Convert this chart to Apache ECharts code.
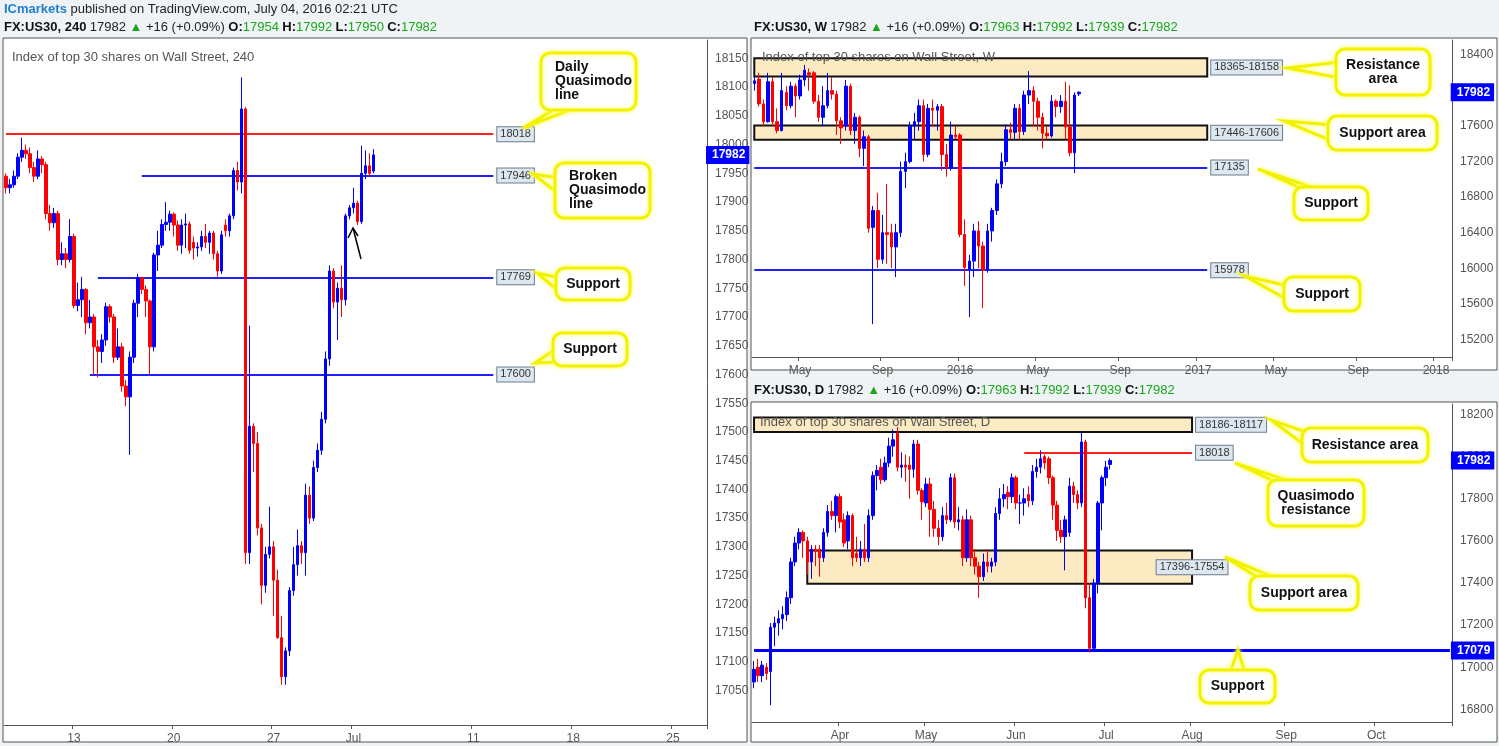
<!DOCTYPE html>
<html><head><meta charset="utf-8">
<script src="https://cdn.jsdelivr.net/npm/echarts@6/dist/echarts.min.js"></script>
<style>html,body{margin:0;padding:0;background:#f0f3f6;}#c{width:1499px;height:746px;}</style>
</head><body><div id="c"></div>
<script>
// ---------- DATA ----------
// 240-minute candles [open, close, low, high], starting Jun 8 2016
const h4Data = [
[17945,17925,17915,17950],[17925,17930,17915,17940],[17930,17945,17925,17955],[17945,17978,17940,17985],[17978,17990,17970,18012],
[17990,17984,17975,18000],[17984,17960,17950,17995],[17960,17945,17935,17970],[17945,17975,17940,17990],[17975,17965,17950,17980],
[17965,17880,17870,17970],[17880,17864,17850,17895],[17864,17880,17855,17890],[17880,17800,17790,17885],[17800,17810,17790,17830],
[17810,17800,17785,17820],[17800,17840,17795,17870],[17840,17720,17715,17845],[17720,17730,17710,17760],[17730,17748,17700,17770],
[17748,17690,17670,17750],[17690,17700,17680,17730],[17700,17648,17600,17705],[17648,17640,17595,17660],[17640,17660,17620,17670],
[17660,17718,17650,17725],[17718,17700,17690,17722],[17700,17630,17620,17705],[17630,17648,17625,17680],[17648,17580,17570,17655],
[17580,17561,17545,17590],[17561,17630,17460,17640],[17630,17724,17620,17730],[17724,17768,17700,17775],[17768,17748,17740,17770],
[17748,17728,17700,17755],[17728,17648,17600,17730],[17648,17808,17640,17812],[17808,17825,17780,17850],[17825,17861,17820,17870],
[17861,17865,17850,17900],[17865,17879,17850,17885],[17879,17860,17840,17882],[17860,17825,17815,17868],[17825,17860,17810,17870],
[17860,17862,17820,17880],[17862,17816,17810,17866],[17830,17820,17800,17840],[17820,17822,17805,17830],[17822,17840,17815,17850],
[17840,17830,17820,17862],[17830,17846,17810,17850],[17846,17810,17800,17850],[17810,17780,17770,17815],[17780,17843,17775,17850],
[17860,17850,17840,17870],[17850,17876,17840,17880],[17876,17955,17870,17960],[17955,17935,17920,17970],[17935,18062,17915,18117],
[18062,17290,17270,18065],[17290,17510,17270,17685],[17510,17480,17430,17515],[17480,17333,17320,17500],[17333,17233,17200,17340],
[17233,17287,17220,17300],[17287,17300,17280,17370],[17300,17242,17180,17310],[17242,17142,17140,17260],[17142,17074,17060,17180],
[17074,17119,17060,17125],[17119,17224,17110,17230],[17224,17269,17215,17300],[17269,17302,17250,17330],[17302,17290,17270,17310],
[17290,17390,17250,17410],[17390,17350,17340,17405],[17350,17438,17345,17450],[17438,17468,17430,17480],[17468,17522,17460,17535],
[17522,17627,17515,17640],[17627,17780,17615,17790],[17780,17726,17715,17785],[17726,17750,17660,17760],[17750,17730,17700,17790],
[17730,17876,17720,17880],[17876,17890,17870,17895],[17890,17898,17880,17925],[17898,17866,17860,17902],[17866,17950,17862,17998],
[17950,17963,17940,17990],[17963,17950,17945,17985],[17954,17982,17950,17992]
];
const h4Labels = {'2016-06-13':'13','2016-06-20':'20','2016-06-27':'27','2016-07-01':'Jul','2016-07-11':'11','2016-07-18':'18','2016-07-25':'25'};
const h4Levels = {qm:18018, broken:17946, sup1:17769, sup2:17600};

// Weekly candles [open, close, low, high], starting week of Feb 23 2015
const wkData = [
[18080,18110,18000,18160],[18130,17850,17820,18200],[17850,17650,17600,17900],[17650,18100,17640,18200],[18100,17650,17600,18150],
[17650,17550,17520,17800],[17550,18000,17540,18200],[17980,17830,17780,18050],[17830,18050,17800,18100],[18050,17940,17700,18080],
[17940,18120,17900,18180],[18120,18230,18050,18290],[18200,18180,18000,18250],[18200,17880,17850,18220],[17880,17700,17650,17950],
[17700,17830,17600,18050],[17830,18000,17800,18200],[18000,17960,17900,18150],[17960,17660,17500,18000],[17660,17580,17400,17700],
[17600,18050,17550,18120],[18050,17550,17500,18080],[17550,17700,17400,17750],[17700,17350,17250,17720],[17350,17480,17150,17550],
[17480,16450,16400,17500],[16460,16650,15370,16700],[16650,16100,16000,16850],[16100,16400,16050,16600],[16400,16380,16050,16950],
[16400,16240,16000,16500],[16240,16400,15900,16500],[16400,17090,16350,17200],[17090,17200,16900,17300],[17200,17600,17180,17650],
[17600,17650,17450,17750],[17650,17830,17550,17900],[17830,17280,17200,17900],[17280,17800,17250,17850],[17800,17780,17600,17900],
[17780,17820,17550,17850],[17820,17280,17100,17850],[17280,17130,17030,17400],[17130,17500,17100,17650],[17500,17480,17450,17600],
[17500,16380,16350,17520],[16380,16010,15800,16550],[15990,16080,15450,16150],[16080,16420,15900,16500],[16420,16250,16000,16530],
[16250,15980,15550,16300],[15980,16420,15950,16500],[16420,16650,16300,16680],[16650,16950,16600,17000],[16950,17200,16900,17300],
[17200,17560,17150,17620],[17560,17530,17450,17640],[17530,17800,17450,17850],[17800,17540,17450,17850],[17540,17950,17500,18000],
[17950,18000,17850,18220],[18000,17880,17600,18050],[17880,17700,17550,17920],[17700,17520,17350,17750],[17520,17490,17450,17600],
[17490,17880,17470,17950],[17880,17820,17700,17900],[17820,17880,17750,17950],[17880,17590,17450,18100],[17590,17300,17260,18060],
[17300,17950,17070,17980],[17963,17982,17939,17992]
];
const wkLevels = {resLo:18158, resHi:18365, supLo:17446, supHi:17606, sup1:17135, sup2:15978};

// Daily candles [open, close, low, high], starting Mar 3 2016 (weekdays)
const dData = [
[16930,16990,16900,17030],[17000,16960,16930,17040],[16960,17010,16930,17030],[17000,16970,16940,17020],
[16980,17190,16820,17210],[17190,17210,17100,17240],[17210,17230,17150,17270],[17230,17250,17180,17290],[17250,17330,17220,17360],
[17330,17500,17300,17520],[17500,17590,17480,17620],[17590,17640,17560,17660],[17640,17600,17520,17650],[17600,17500,17440,17620],
[17500,17560,17420,17580],[17560,17550,17480,17580],[17560,17520,17430,17580],[17520,17640,17500,17660],[17640,17740,17620,17770],
[17740,17720,17700,17790],[17720,17810,17640,17820],[17810,17690,17660,17825],[17700,17590,17570,17730],[17600,17720,17560,17740],
[17720,17520,17480,17730],[17540,17520,17500,17620],[17520,17560,17480,17600],[17560,17520,17500,17680],[17520,17720,17500,17750],
[17720,17910,17700,17930],[17910,17935,17840,17960],[17950,17890,17870,17990],[17890,17970,17880,18000],[17970,18050,17950,18090],
[18050,18080,18000,18130],[18110,17950,17930,18140],[17950,17960,17900,18020],[17960,17950,17880,18010],[17960,17940,17800,18000],
[17940,18060,17900,18080],[18060,17840,17820,18080],[17840,17785,17700,17850],[17780,17870,17760,17900],[17870,17750,17620,17900],
[17750,17660,17620,17790],[17660,17620,17580,17700],[17620,17720,17600,17760],[17720,17700,17680,17780],[17700,17900,17690,17920],
[17900,17690,17660,17920],[17690,17700,17650,17760],[17700,17520,17480,17720],[17520,17700,17500,17750],[17700,17520,17480,17720],
[17520,17480,17440,17560],[17480,17430,17330,17500],[17430,17500,17410,17540],[17500,17480,17450,17560],[17480,17500,17450,17520],
[17500,17730,17480,17760],[17730,17800,17700,17850],[17800,17820,17760,17870],[17830,17810,17750,17860],[17810,17900,17780,17920],
[17900,17780,17750,17910],[17780,17780,17680,17820],[17780,17800,17720,17850],[17820,17790,17760,17860],[17790,17930,17770,17960],
[17930,17950,17900,17990],[17950,17990,17920,18030],[18000,17970,17940,18010],[17990,17900,17870,18000],[17900,17770,17700,17910],
[17770,17650,17600,17790],[17650,17620,17590,17700],[17620,17700,17460,17720],[17640,17860,17620,17900],[17860,17820,17780,17880],
[17820,17780,17750,17840],[17780,18070,17760,18120],[18070,17330,17280,18080],[17330,17090,17070,17400],[17090,17400,17080,17420],
[17400,17780,17350,17790],[17780,17900,17650,17910],[17900,17950,17860,17980],[17963,17982,17939,17992]
];
const dLevels = {resLo:18117, resHi:18186, qm:18018, supLo:17396, supHi:17554, sup:17079};
const lastPrice = 17982;

// ---------- CATEGORIES ----------
function fmt(d){return d.getUTCFullYear()+'-'+String(d.getUTCMonth()+1).padStart(2,'0')+'-'+String(d.getUTCDate()).padStart(2,'0');}
function weekdays(start,n){const out=[];let d=new Date(start+'T00:00:00Z');while(out.length<n){const w=d.getUTCDay();if(w!==0&&w!==6)out.push(fmt(d));d=new Date(d.getTime()+86400000);}return out;}
const MON=['Jan','Feb','Mar','Apr','May','Jun','Jul','Aug','Sep','Oct','Nov','Dec'];
const h4Days = weekdays('2016-06-07',40);
const h4Cats = []; for(let i=0;i<176;i++){const k=i+4; h4Cats.push(h4Days[Math.floor(k/5)]+'#'+(k%5));}
const wkCats=[]; {let d=new Date('2015-02-23T00:00:00Z'); for(let i=0;i<153;i++){wkCats.push(fmt(d)); d=new Date(d.getTime()+7*86400000);} }
const dCats = weekdays('2016-03-03',171);
function monthOf(s){return parseInt(s.slice(5,7),10)-1;}

// ---------- STYLES ----------
const UP='#0000ff', DN='#ff0000';
const tag = (txt)=>({show:true, position:'end', formatter:String(txt), color:'#333', fontSize:11, fontFamily:'Liberation Sans', backgroundColor:'#dde7ef', borderColor:'#6c7c8c', borderWidth:1, padding:[2,3,1,3], distance:4});
const priceTag = (v)=>({show:true, position:'end', formatter:String(v), color:'#fff', fontWeight:'bold', fontSize:12, fontFamily:'Liberation Sans', backgroundColor:'#0000ff', padding:[3,4,3,6], distance:1});
const HIDDEN='rgba(0,0,0,0)';
function hline(a,b,v,color,w,label){return [{coord:[a,v], lineStyle:{color:color,width:w,type:'solid'}, label:label},{coord:[b,v]}];}
const axisLab = {color:'#555', fontSize:12, fontFamily:'Liberation Sans'};
function yAx(idx,min,max,step,skip){return {type:'value', gridIndex:idx, position:'right', min:min, max:max, interval:10, scale:true,
  splitLine:{show:false}, axisTick:{show:false}, axisLine:{show:true,lineStyle:{color:'#555'}},
  axisLabel:Object.assign({margin:8, formatter:(v)=> (v%step===0 && v!==skip ? String(v):'')},axisLab)};}
function xAx(idx,cats,intervalFn,fmtFn){return {type:'category', gridIndex:idx, data:cats, boundaryGap:true,
  axisLine:{show:true,lineStyle:{color:'#555'}}, axisTick:{show:true, interval:intervalFn, length:4, lineStyle:{color:'#555'}},
  splitLine:{show:false}, axisLabel:Object.assign({interval:intervalFn, formatter:fmtFn, margin:8},axisLab)};}

const h4Int = (i,v)=> h4Labels[v.split('#')[0]]!==undefined && v.endsWith('#1');
const h4Fmt = (v)=> v.endsWith('#1') ? (h4Labels[v.split('#')[0]]||'') : '';
const wkInt = (i,v)=> i>0 && monthOf(v)!==monthOf(wkCats[i-1]) && [0,4,8].includes(monthOf(v));
const wkFmt = (v)=> monthOf(v)===0? v.slice(0,4) : MON[monthOf(v)];
const dInt = (i,v)=> i>0 && monthOf(v)!==monthOf(dCats[i-1]);
const dFmt = (v)=> MON[monthOf(v)];

function candle(xi,yi,data){return {type:'candlestick', xAxisIndex:xi, yAxisIndex:yi, data:data, barWidth:3, z:5,
  itemStyle:{color:UP,color0:DN,borderColor:UP,borderColor0:DN,borderWidth:1}, animation:false};}

// ---------- CALLOUTS (annotations) ----------
function callout(x,y,w,h,tail,lines){
  const els=[];
  els.push({type:'polygon', shape:{points:tail}, style:{fill:'#fff', stroke:'#f2f200', lineWidth:3, shadowBlur:4, shadowColor:'#ffff66'}, z:50});
  els.push({type:'rect', shape:{x:x,y:y,width:w,height:h,r:9}, style:{fill:'#fff', stroke:'#f2f200', lineWidth:3, shadowBlur:4, shadowColor:'#ffff66'}, z:51});
  els.push({type:'text', x:x+w/2, y:y+h/2, style:{text:lines, fill:'#111', font:'bold 14px "Liberation Sans Narrow","Liberation Sans",sans-serif', align:'center', verticalAlign:'middle', lineHeight:14}, z:52});
  return els;
}
function calloutL(x,y,w,h,tail,lines){const e=callout(x,y,w,h,tail,lines); e[2].x=x+14; e[2].style.align='left'; return e;}

let graphics=[];
graphics.push({type:'rect', shape:{x:3,y:38,width:744,height:704}, style:{fill:'#fff',stroke:'#555',lineWidth:1}, z:-10});
graphics.push({type:'rect', shape:{x:751,y:38,width:746,height:332}, style:{fill:'#fff',stroke:'#555',lineWidth:1}, z:-10});
graphics.push({type:'rect', shape:{x:751,y:402,width:746,height:340}, style:{fill:'#fff',stroke:'#555',lineWidth:1}, z:-10});
graphics.push({type:'text', x:4, y:9, style:{text:'{a|ICmarkets}{b| published on TradingView.com, July 04, 2016 02:21 UTC}', verticalAlign:'middle',
  rich:{a:{fill:'#1e7fd0',font:'bold 13px "Liberation Sans"'}, b:{fill:'#222',font:'13px "Liberation Sans"'}}}});
function hdr(x,y,tf,o,h,l,c){return {type:'text', x:x, y:y, style:{text:'{k|FX:US30, '+tf+'} {n|17982 }{g|▲}{n| +16 (+0.09%) }{k|O:}{g|'+o+'} {k|H:}{g|'+h+'} {k|L:}{g|'+l+'} {k|C:}{g|'+c+'}', verticalAlign:'middle',
  rich:{k:{fill:'#111',font:'bold 13px "Liberation Sans"'}, n:{fill:'#222',font:'13px "Liberation Sans"'}, g:{fill:'#1aa81a',font:'13px "Liberation Sans"'}}}};}
graphics.push(hdr(4,27,'240',17954,17992,17950,17982));
graphics.push(hdr(754,27,'W',17963,17992,17939,17982));
graphics.push(hdr(754,390,'D',17963,17992,17939,17982));
graphics.push({type:'text', x:12, y:57, style:{text:'Index of top 30 shares on Wall Street, 240', fill:'#555', font:'13px "Liberation Sans"', verticalAlign:'middle'}, z:30});
graphics.push({type:'text', x:762, y:57, style:{text:'Index of top 30 shares on Wall Street, W', fill:'#555', font:'13px "Liberation Sans"', verticalAlign:'middle'}, z:30});
graphics.push({type:'text', x:760, y:422, style:{text:'Index of top 30 shares on Wall Street, D', fill:'#555', font:'13px "Liberation Sans"', verticalAlign:'middle'}, z:30});
graphics = graphics.concat(calloutL(541,53,95,57,[[560,106],[580,106],[523,128]],'Daily\nQuasimodo\nline'));
graphics = graphics.concat(calloutL(555,163,95,55,[[559,178],[559,194],[533,174]],'Broken\nQuasimodo\nline'));
graphics = graphics.concat(callout(556,268,74,32,[[560,278],[560,292],[537,273]],'Support'));
graphics = graphics.concat(callout(553,333,74,33,[[557,348],[557,362],[535,363]],'Support'));
graphics.push({type:'line', shape:{x1:361,y1:259,x2:353,y2:228}, style:{stroke:'#000',lineWidth:1.5}, z:40});
graphics.push({type:'polyline', shape:{points:[[348,238],[353,228],[358,236]]}, style:{stroke:'#000',lineWidth:1.5,fill:null}, z:40});
graphics = graphics.concat(callout(1336,49,94,46,[[1340,62],[1340,78],[1288,68]],'Resistance\narea'));
graphics = graphics.concat(callout(1328,116,109,34,[[1332,125],[1332,141],[1284,121]],'Support area'));
graphics = graphics.concat(callout(1294,187,74,33,[[1305,190],[1320,190],[1258,169]],'Support'));
graphics = graphics.concat(callout(1284,277,76,34,[[1288,286],[1288,300],[1245,276]],'Support'));
graphics = graphics.concat(callout(1302,428,126,34,[[1306,432],[1306,446],[1271,420]],'Resistance area'));
graphics = graphics.concat(callout(1268,480,96,46,[[1280,484],[1298,484],[1235,463]],'Quasimodo\nresistance'));
graphics = graphics.concat(callout(1250,576,108,34,[[1262,580],[1280,580],[1225,557]],'Support area'));
graphics = graphics.concat(callout(1200,670,75,33,[[1230,673],[1245,673],[1238,650]],'Support'));

// ---------- SERIES ----------
const zoneStyle = {color:'rgba(252,231,183,0.85)', borderColor:'#111', borderWidth:2};
const W_END=99, D_END=107;
const series = [
  {type:'line', xAxisIndex:1, yAxisIndex:1, data:[], z:1, silent:true, markArea:{silent:true, itemStyle:zoneStyle,
     data:[[{coord:[0,wkLevels.resLo]},{coord:[W_END,wkLevels.resHi]}],[{coord:[0,wkLevels.supLo]},{coord:[W_END,wkLevels.supHi]}]]}},
  {type:'line', xAxisIndex:2, yAxisIndex:2, data:[], z:1, silent:true, markArea:{silent:true, itemStyle:zoneStyle,
     data:[[{coord:[0,dLevels.resLo]},{coord:[D_END,dLevels.resHi]}],[{coord:[13,dLevels.supLo]},{coord:[D_END,dLevels.supHi]}]]}},
  Object.assign(candle(0,0,h4Data),{markLine:{symbol:'none', silent:true, animation:false, data:[
     hline(0,122,h4Levels.qm,'#ff2020',2,tag(h4Levels.qm)),
     hline(34,122,h4Levels.broken,'#2020ff',2,tag(h4Levels.broken)),
     hline(23,122,h4Levels.sup1,'#2020ff',2,tag(h4Levels.sup1)),
     hline(21,122,h4Levels.sup2,'#2020ff',2,tag(h4Levels.sup2)),
     hline(0,175,lastPrice,HIDDEN,1,priceTag(lastPrice))
  ]}}),
  Object.assign(candle(1,1,wkData),{markLine:{symbol:'none', silent:true, animation:false, data:[
     hline(0,W_END,(wkLevels.resLo+wkLevels.resHi)/2,HIDDEN,1,tag(wkLevels.resHi+'-'+wkLevels.resLo)),
     hline(0,W_END,(wkLevels.supLo+wkLevels.supHi)/2,HIDDEN,1,tag(wkLevels.supLo+'-'+wkLevels.supHi)),
     hline(0,W_END,wkLevels.sup1,'#2020ff',2,tag(wkLevels.sup1)),
     hline(0,W_END,wkLevels.sup2,'#2020ff',2,tag(wkLevels.sup2)),
     hline(0,152,lastPrice,HIDDEN,1,priceTag(lastPrice))
  ]}}),
  Object.assign(candle(2,2,dData),{markLine:{symbol:'none', silent:true, animation:false, data:[
     hline(0,D_END,(dLevels.resLo+dLevels.resHi)/2,HIDDEN,1,tag(dLevels.resHi+'-'+dLevels.resLo)),
     hline(66,D_END,dLevels.qm,'#ff2020',2,tag(dLevels.qm)),
     hline(D_END,D_END,(dLevels.supLo+dLevels.supHi)/2,HIDDEN,1,tag(dLevels.supLo+'-'+dLevels.supHi)),
     hline(0,170,dLevels.sup,'#0000ff',3,priceTag(dLevels.sup)),
     hline(0,170,lastPrice,HIDDEN,1,priceTag(lastPrice))
  ]}})
];

const chart = echarts.init(document.getElementById('c'));
chart.setOption({
  animation:false,
  grid:[{left:4,top:40,width:703,height:685},{left:752,top:40,width:700,height:317},{left:752,top:404,width:700,height:318}],
  xAxis:[xAx(0,h4Cats,h4Int,h4Fmt), xAx(1,wkCats,wkInt,wkFmt), xAx(2,dCats,dInt,dFmt)],
  yAxis:[yAx(0,16990,18182,50,17000), yAx(1,15000,18570,400), yAx(2,16740,18250,200)],
  series:series,
  graphic:graphics
});
</script></body></html>
